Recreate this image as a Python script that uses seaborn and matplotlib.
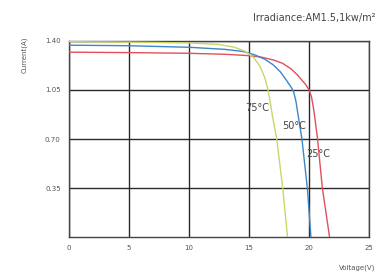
import matplotlib
matplotlib.use("Agg")
import matplotlib.pyplot as plt
import seaborn as sns
import pandas as pd

# Data
v_25 = [0, 5, 10, 13, 15, 16, 17, 17.8, 18.5, 19.0, 19.4, 19.7, 20.0, 20.2, 20.4, 20.7, 21.1, 21.7]
i_25 = [1.32, 1.317, 1.312, 1.305, 1.295, 1.285, 1.265, 1.24, 1.20, 1.16, 1.12, 1.09, 1.05, 1.00, 0.90, 0.70, 0.35, 0.0]
v_50 = [0, 5, 10, 13, 14.5, 15.5, 16.3, 17.0, 17.6, 18.1, 18.5, 18.7, 18.9, 19.1, 19.4, 19.85, 20.15]
i_50 = [1.37, 1.366, 1.355, 1.34, 1.325, 1.30, 1.27, 1.23, 1.18, 1.12, 1.07, 1.04, 0.97, 0.86, 0.70, 0.35, 0.0]
v_75 = [0, 5, 10, 12.5, 13.8, 14.7, 15.4, 15.9, 16.3, 16.55, 16.75, 16.95, 17.3, 17.8, 18.2]
i_75 = [1.395, 1.392, 1.386, 1.375, 1.355, 1.325, 1.28, 1.22, 1.14, 1.06, 0.97, 0.86, 0.70, 0.35, 0.0]
temps = ["25°C", "50°C", "75°C"]
colors = ["#e0505a", "#3d86c8", "#c9d66a"]
label_pos = [(20.75, 0.59), (18.75, 0.79), (15.7, 0.92)]
x_ticks = [0, 5, 10, 15, 20, 25]
y_ticks = [0.35, 0.70, 1.05, 1.40]
y_ticklabels = ["0.35", "0.70", "1.05", "1.40"]

df = pd.concat([
    pd.DataFrame({"V": v_25, "I": i_25, "T": temps[0]}),
    pd.DataFrame({"V": v_50, "I": i_50, "T": temps[1]}),
    pd.DataFrame({"V": v_75, "I": i_75, "T": temps[2]}),
])

sns.set_style("white")
fig = plt.figure(figsize=(3.81, 2.75), dpi=100)
ax = fig.add_axes([0.181, 0.138, 0.788, 0.713])

sns.lineplot(data=df, x="V", y="I", hue="T", palette=dict(zip(temps, colors)),
             sort=False, estimator=None, linewidth=1.0, ax=ax, legend=False, zorder=3)

ax.set_xlim(0, 25)
ax.set_ylim(0, 1.40)
ax.set_xticks(x_ticks)
ax.set_xticklabels([str(t) for t in x_ticks])
ax.set_yticks(y_ticks)
ax.set_yticklabels(y_ticklabels)
ax.grid(True, color="#2a2a2a", linewidth=1.0, zorder=1)
ax.set_axisbelow(True)
for s in ax.spines.values():
    s.set_color("#444444")
    s.set_linewidth(1.0)
ax.tick_params(axis="both", length=0, labelsize=5, colors="#555555", pad=6)
ax.set_xlabel("")
ax.set_ylabel("")

for t, (x, y) in zip(temps, label_pos):
    ax.text(x, y, t, fontsize=7, color="#444444", ha="center", va="center", zorder=4)

fig.text(0.985, 0.935, "Irradiance:AM1.5,1kw/m²", fontsize=7, color="#444444",
         ha="right", va="center")
fig.text(0.065, 0.80, "Current(A)", fontsize=5, color="#555555", rotation=90,
         ha="center", va="center")
fig.text(0.985, 0.025, "Voltage(V)", fontsize=5, color="#555555", ha="right", va="center")

fig.savefig("out.png", dpi=100, facecolor="white")
